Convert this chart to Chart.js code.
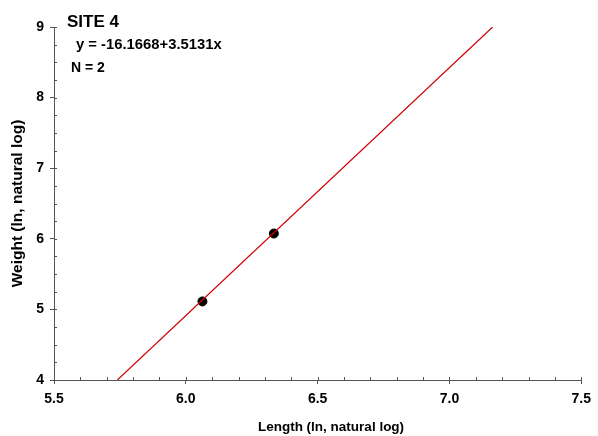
<!DOCTYPE html>
<html>
<head>
<meta charset="utf-8">
<script src="https://cdn.jsdelivr.net/npm/chart.js@4/dist/chart.umd.min.js"></script>
<style>
  html, body { margin: 0; padding: 0; background: #fff; }
  #wrap { width: 598px; height: 436px; }
</style>
</head>
<body>
<div id="wrap"><canvas id="siteChart" width="598" height="436"></canvas></div>
<script>
// observed points (ln length, ln weight)
var lengthLn = [6.063, 6.334]
var weightLn = [5.113, 6.075]
// fitted regression
var intercept = -16.1668
var slope = 3.5131
var xTicks = [5.5, 6.0, 6.5, 7.0, 7.5]
var yTicks = [4, 5, 6, 7, 8, 9]

var font = "'Liberation Sans', Arial, sans-serif"
var axisColor = '#555'

// regression line between y = 4 and y = 9 (the axis range)
var fitLine = [yTicks[0], yTicks[yTicks.length - 1]].map(function (y) {
    return { x: (y - intercept) / slope, y: y }
})

var minorTicks = {
    id: 'minorTicks',
    afterDraw: function (chart) {
        var ctx = chart.ctx
        var xs = chart.scales.x, ys = chart.scales.y
        ctx.save()
        ctx.strokeStyle = axisColor
        ctx.lineWidth = 1
        ctx.beginPath()
        for (var v = 5.5; v <= 7.5001; v += 0.1) {
            var px = Math.round(xs.getPixelForValue(v)) + 0.5
            ctx.moveTo(px, ys.bottom)
            ctx.lineTo(px, ys.bottom - 3)
        }
        for (var w = 4; w <= 9.0001; w += 0.25) {
            var py = Math.round(ys.getPixelForValue(w)) + 0.5
            ctx.moveTo(xs.left, py)
            ctx.lineTo(xs.left + 3, py)
        }
        ctx.stroke()

        ctx.fillStyle = '#000'
        ctx.textBaseline = 'alphabetic'
        ctx.font = 'bold 17px ' + font
        ctx.fillText('SITE 4', 67, 27)
        ctx.font = 'bold 14.8px ' + font
        ctx.fillText('y = -16.1668+3.5131x', 76, 49)
        ctx.font = 'bold 14px ' + font
        ctx.fillText('N = 2', 71, 72)

        // x axis title sits a little right of the plot centre
        ctx.font = 'bold 13.5px ' + font
        ctx.textAlign = 'center'
        ctx.textBaseline = 'middle'
        ctx.fillText('Length (ln, natural log)', 331, 427)
        ctx.restore()
    }
}

var chart = new Chart(document.getElementById('siteChart'), {
    type: 'scatter',
    data: {
        datasets: [{
            type: 'line',
            data: fitLine,
            borderColor: '#d00000',
            borderWidth: 1.2,
            pointRadius: 0,
            fill: false
        }, {
            data: lengthLn.map(function (x, i) { return { x: x, y: weightLn[i] } }),
            backgroundColor: '#000',
            borderColor: '#000',
            pointRadius: 4.5
        }]
    },
    options: {
        responsive: false,
        animation: false,
        layout: { padding: { top: 27, right: 16, left: 0, bottom: 0 } },
        plugins: { legend: { display: false }, tooltip: { enabled: false } },
        scales: {
            x: {
                type: 'linear',
                min: 5.5,
                max: 7.5,
                afterBuildTicks: function (s) { s.ticks = xTicks.map(function (v) { return { value: v } }) },
                afterFit: function (s) { s.height = 56 },
                ticks: {
                    color: '#000',
                    font: { family: font, size: 14, weight: 'bold' },
                    padding: 7,
                    maxRotation: 0,
                    callback: function (v) { return v.toFixed(1) }
                },
                grid: { drawOnChartArea: false, tickLength: 4, tickColor: axisColor },
                border: { color: axisColor }
            },
            y: {
                type: 'linear',
                min: 4,
                max: 9,
                afterBuildTicks: function (s) { s.ticks = yTicks.map(function (v) { return { value: v } }) },
                afterFit: function (s) { s.width = 54 },
                ticks: {
                    color: '#000',
                    font: { family: font, size: 14, weight: 'bold' },
                    padding: 6
                },
                grid: { drawOnChartArea: false, tickLength: 4, tickColor: axisColor },
                border: { color: axisColor },
                title: {
                    display: true,
                    text: 'Weight (ln, natural log)',
                    color: '#000',
                    font: { family: font, size: 15.5, weight: 'bold' },
                    padding: { top: 8, bottom: 0 }
                }
            }
        }
    },
    plugins: [minorTicks]
});
</script>
</body>
</html>
